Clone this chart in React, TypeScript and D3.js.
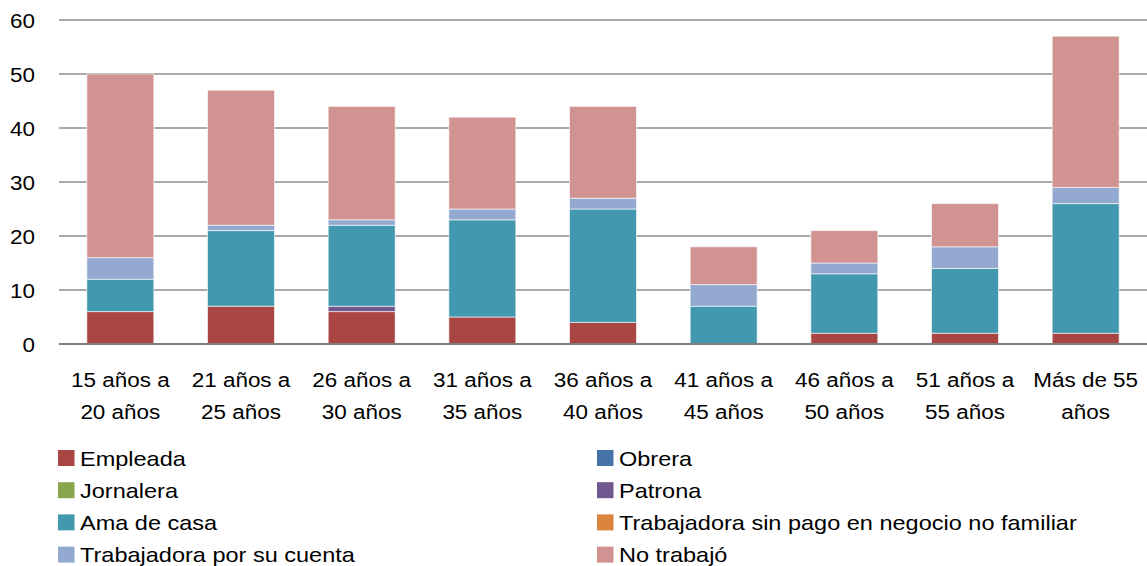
import React from "react";
import * as d3 from "d3";

const categories = [
  ["15 años a", "20 años"],
  ["21 años a", "25 años"],
  ["26 años a", "30 años"],
  ["31 años a", "35 años"],
  ["36 años a", "40 años"],
  ["41 años a", "45 años"],
  ["46 años a", "50 años"],
  ["51 años a", "55 años"],
  ["Más de 55", "años"],
];

const seriesNames = [
  "Empleada",
  "Obrera",
  "Jornalera",
  "Patrona",
  "Ama de casa",
  "Trabajadora sin pago en negocio no familiar",
  "Trabajadora por su cuenta",
  "No trabajó",
];

const empleada = [6, 7, 6, 5, 4, 0, 2, 2, 2];
const obrera = [0, 0, 0, 0, 0, 0, 0, 0, 0];
const jornalera = [0, 0, 0, 0, 0, 0, 0, 0, 0];
const patrona = [0, 0, 1, 0, 0, 0, 0, 0, 0];
const amaDeCasa = [6, 14, 15, 18, 21, 7, 11, 12, 24];
const sinPago = [0, 0, 0, 0, 0, 0, 0, 0, 0];
const porSuCuenta = [4, 1, 1, 2, 2, 4, 2, 4, 3];
const noTrabajo = [34, 25, 21, 17, 17, 7, 6, 8, 28];

const seriesValues = [empleada, obrera, jornalera, patrona, amaDeCasa, sinPago, porSuCuenta, noTrabajo];
const colors = ["#A94644", "#4572A7", "#89A54E", "#71588F", "#4198AF", "#DB843D", "#93A9CF", "#D19392"];
const yTicks = [0, 10, 20, 30, 40, 50, 60];

const FONT = "'Liberation Sans', Arial, sans-serif";

function Txt({ x, y, anchor = "start", sx = 1.07, children }: { x: number; y: number; anchor?: string; sx?: number; children: React.ReactNode }) {
  return (
    <text
      transform={`translate(${x},${y}) scale(${sx},1)`}
      textAnchor={anchor}
      fontFamily={FONT}
      fontSize={21}
      fill="#000"
    >
      {children}
    </text>
  );
}

export default function App() {
  const W = 1147, H = 566;
  const left = 59, right = 1147, top = 20, bottom = 344;
  const x = d3.scaleBand<number>().domain(d3.range(categories.length)).range([60, 1146]).paddingInner(0.445).paddingOuter(0.2225);
  const y = d3.scaleLinear().domain([0, 60]).range([bottom, top]);

  const table = categories.map((_, i) => {
    const row: Record<string, number> = {};
    seriesNames.forEach((s, j) => (row[s] = seriesValues[j][i]));
    return row;
  });
  const stacked = d3.stack<Record<string, number>>().keys(seriesNames)(table);

  return (
    <svg width={W} height={H} style={{ position: "absolute", left: 0, top: 0, background: "#fff" }}>
      {yTicks.map((t) => (
        <g key={t}>
          <line x1={left} x2={right} y1={y(t)} y2={y(t)} stroke="#8c8c8c" strokeWidth={1.3} />
          <Txt x={35} y={y(t) + 8} anchor="end">{t}</Txt>
        </g>
      ))}
      {stacked.map((layer, j) => (
        <g key={layer.key} fill={colors[j]}>
          {layer.map((d, i) =>
            d[1] - d[0] > 0 ? (
              <rect key={i} x={x(i)} y={y(d[1])} width={x.bandwidth()} height={y(d[0]) - y(d[1])} stroke="#ffffff" strokeOpacity={0.6} strokeWidth={1} />
            ) : null
          )}
        </g>
      ))}
      <line x1={left} x2={right} y1={y(0)} y2={y(0)} stroke="#7f7f7f" strokeWidth={2} />
      {categories.map((c, i) => {
        const cx = (x(i) ?? 0) + x.bandwidth() / 2;
        return (
          <g key={i}>
            <Txt x={cx} y={387} anchor="middle">{c[0]}</Txt>
            <Txt x={cx} y={418.5} anchor="middle">{c[1]}</Txt>
          </g>
        );
      })}
      {seriesNames.map((s, j) => {
        const col = j % 2;
        const row = Math.floor(j / 2);
        const sx = col === 0 ? 58 : 597;
        const cy = 458 + row * 32.2;
        return (
          <g key={s}>
            <rect x={sx} y={cy - 8} width={16.5} height={16} fill={colors[j]} />
            <Txt x={sx + 22} y={cy + 7.5} sx={1.12}>{s}</Txt>
          </g>
        );
      })}
    </svg>
  );
}
